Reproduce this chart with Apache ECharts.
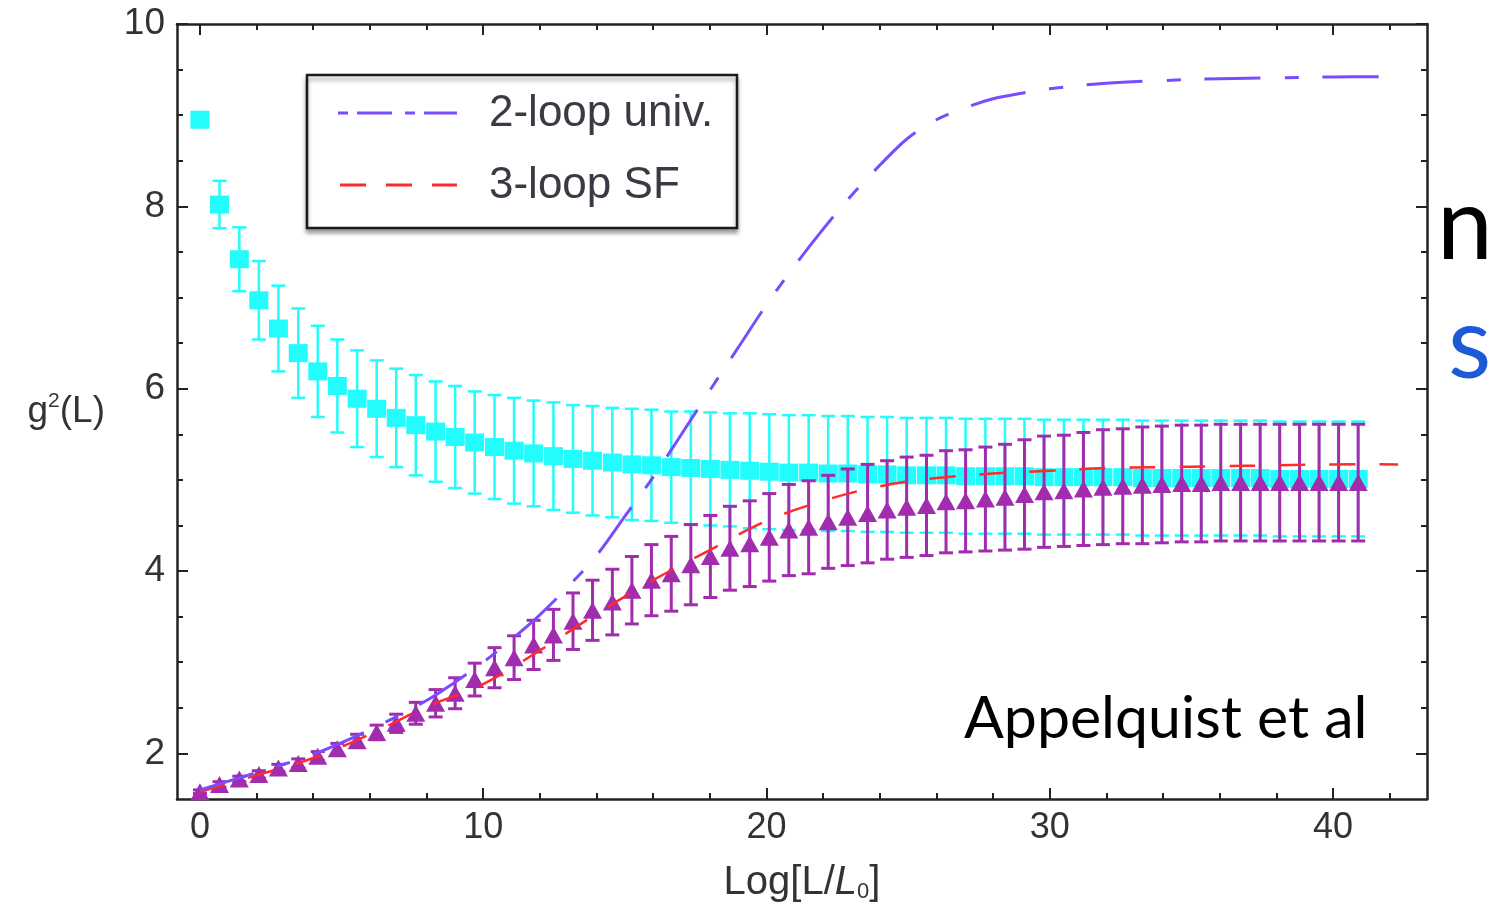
<!DOCTYPE html>
<html>
<head>
<meta charset="utf-8">
<script src="https://cdn.jsdelivr.net/npm/echarts@6/dist/echarts.min.js"></script>
<style>
html,body{margin:0;padding:0;background:#fff;}
#chart{width:1506px;height:916px;}
</style>
</head>
<body>
<div id="chart"></div>
<script>
// ---------- data ----------
const xVals = [0, 0.69, 1.39, 2.08, 2.77, 3.47, 4.16, 4.85, 5.55, 6.24, 6.93, 7.62, 8.32, 9.01, 9.70, 10.40, 11.09, 11.78, 12.48, 13.17, 13.86, 14.56, 15.25, 15.94, 16.64, 17.33, 18.02, 18.71, 19.41, 20.10, 20.79, 21.49, 22.18, 22.87, 23.57, 24.26, 24.95, 25.65, 26.34, 27.03, 27.73, 28.42, 29.11, 29.80, 30.50, 31.19, 31.88, 32.58, 33.27, 33.96, 34.66, 35.35, 36.04, 36.74, 37.43, 38.12, 38.82, 39.51, 40.20, 40.89];

const cyanY = [8.95, 8.02, 7.42, 6.97, 6.66, 6.39, 6.19, 6.03, 5.89, 5.78, 5.68, 5.60, 5.53, 5.47, 5.41, 5.36, 5.32, 5.29, 5.26, 5.23, 5.21, 5.19, 5.17, 5.16, 5.14, 5.13, 5.12, 5.11, 5.10, 5.09, 5.08, 5.08, 5.07, 5.07, 5.06, 5.06, 5.05, 5.05, 5.05, 5.04, 5.04, 5.04, 5.04, 5.03, 5.03, 5.03, 5.03, 5.03, 5.02, 5.02, 5.02, 5.02, 5.02, 5.02, 5.02, 5.01, 5.01, 5.01, 5.01, 5.01];
const cyanErr = [0, 0.26, 0.35, 0.43, 0.47, 0.49, 0.50, 0.51, 0.53, 0.53, 0.54, 0.55, 0.55, 0.56, 0.56, 0.57, 0.58, 0.58, 0.59, 0.59, 0.60, 0.60, 0.61, 0.61, 0.61, 0.62, 0.62, 0.62, 0.63, 0.63, 0.63, 0.63, 0.63, 0.63, 0.63, 0.63, 0.63, 0.63, 0.63, 0.63, 0.63, 0.63, 0.63, 0.63, 0.63, 0.63, 0.63, 0.63, 0.63, 0.63, 0.63, 0.63, 0.63, 0.63, 0.63, 0.63, 0.63, 0.63, 0.63, 0.63];

const purpleY = [1.58, 1.66, 1.72, 1.77, 1.84, 1.89, 1.97, 2.05, 2.14, 2.23, 2.33, 2.44, 2.55, 2.66, 2.81, 2.94, 3.05, 3.19, 3.30, 3.45, 3.57, 3.66, 3.79, 3.90, 3.97, 4.07, 4.16, 4.25, 4.30, 4.37, 4.45, 4.48, 4.54, 4.59, 4.63, 4.67, 4.70, 4.72, 4.76, 4.77, 4.79, 4.81, 4.84, 4.87, 4.88, 4.90, 4.92, 4.93, 4.94, 4.95, 4.96, 4.96, 4.97, 4.97, 4.97, 4.97, 4.97, 4.97, 4.97, 4.97];
const purpleErr = [0.02, 0.03, 0.03, 0.04, 0.04, 0.05, 0.05, 0.06, 0.07, 0.08, 0.10, 0.12, 0.15, 0.17, 0.18, 0.22, 0.24, 0.27, 0.28, 0.31, 0.33, 0.36, 0.37, 0.39, 0.41, 0.44, 0.45, 0.46, 0.47, 0.48, 0.50, 0.51, 0.51, 0.53, 0.54, 0.54, 0.55, 0.55, 0.56, 0.56, 0.57, 0.58, 0.60, 0.61, 0.61, 0.62, 0.63, 0.63, 0.64, 0.64, 0.64, 0.64, 0.64, 0.64, 0.64, 0.64, 0.64, 0.64, 0.64, 0.64];

const twoLoopX = [0, 2, 4, 6, 8, 9, 10, 11, 12, 13, 14, 15, 16, 17, 18, 19, 20, 21, 22, 23, 24, 25, 26, 27, 28, 29, 30, 32, 34, 36, 38, 40, 41.8];
const twoLoopY = [1.60, 1.79, 1.99, 2.26, 2.58, 2.78, 3.00, 3.25, 3.52, 3.83, 4.17, 4.60, 5.03, 5.50, 5.98, 6.45, 6.92, 7.35, 7.75, 8.12, 8.45, 8.75, 8.95, 9.08, 9.18, 9.24, 9.29, 9.35, 9.38, 9.40, 9.41, 9.42, 9.42];

const threeLoopX = [0, 2, 4, 6, 8, 10, 12, 14, 16, 18, 20, 22, 24, 26, 28, 30, 32, 34, 36, 38, 40, 42.3];
const threeLoopY = [1.58, 1.76, 1.95, 2.21, 2.51, 2.76, 3.13, 3.53, 3.90, 4.23, 4.55, 4.77, 4.93, 5.02, 5.07, 5.10, 5.13, 5.14, 5.15, 5.16, 5.17, 5.17];

const seriesNames = ['2-loop univ.', '3-loop SF'];
const xMajorTicks = [0, 10, 20, 30, 40];
const xMinorTicks = [2, 4, 6, 8, 12, 14, 16, 18, 22, 24, 26, 28, 32, 34, 36, 38, 42];
const yMajorTicks = [2, 4, 6, 8, 10];
const yMinorTicks = [2.5, 3, 3.5, 4.5, 5, 5.5, 6.5, 7, 7.5, 8.5, 9, 9.5];
const xTitle = 'Log[L/{it|L}{sub|0}]';
const yTitle = 'g{sup|2}(L)';
const credit = 'Appelquist et al';

// ---------- chart ----------
const chart = echarts.init(document.getElementById('chart'), null, {renderer: 'canvas'});
const FONT = '"Liberation Sans", Arial, sans-serif';
const X_MIN = -0.81, X_MAX = 43.32, Y_MIN = 1.5, Y_MAX = 10;
const LABEL_COLOR = '#333';
const CYAN = '#22fcfc';
const PURPLE = '#a12cae';
const BLUE = '#7a4cff';
const RED = '#ff2a2a';

function pairs(xs, ys) { return xs.map((x, i) => [x, ys[i]]); }
function errData(xs, ys, es) { return xs.map((x, i) => [x, ys[i] - es[i], ys[i] + es[i]]); }

function errRenderer(color, capHalf, lw) {
  return function (params, api) {
    const x = api.value(0), lo = api.value(1), hi = api.value(2);
    if (hi - lo < 1e-6) return null;
    const p1 = api.coord([x, lo]);
    const p2 = api.coord([x, hi]);
    const st = {stroke: color, lineWidth: lw};
    return {
      type: 'group',
      children: [
        {type: 'line', shape: {x1: p1[0], y1: p1[1], x2: p2[0], y2: p2[1]}, style: st},
        {type: 'line', shape: {x1: p1[0] - capHalf, y1: p1[1], x2: p1[0] + capHalf, y2: p1[1]}, style: st},
        {type: 'line', shape: {x1: p2[0] - capHalf, y1: p2[1], x2: p2[0] + capHalf, y2: p2[1]}, style: st}
      ]
    };
  };
}

// one continuous dashed curve through all points of a series (dash pattern runs along the whole path)
function curveRenderer(xs, ys, color, lw, dash) {
  return function (params, api) {
    if (params.dataIndex !== 0) return null;
    const pts = xs.map((x, i) => api.coord([x, ys[i]]));
    return {
      type: 'polyline',
      shape: {points: pts, smooth: 0.35},
      style: {stroke: color, lineWidth: lw, lineDash: dash, fill: null, lineCap: 'butt', lineJoin: 'round'}
    };
  };
}

function xAxisDef(pos, ticks, len, showLine, showLabel, extra) {
  return Object.assign({
    type: 'value', position: pos, min: X_MIN, max: X_MAX, gridIndex: 0,
    axisLine: {show: showLine, onZero: false, lineStyle: {color: '#222', width: 2.5}},
    axisTick: {show: true, inside: true, length: len, customValues: ticks, lineStyle: {color: '#222', width: 2}},
    axisLabel: {show: showLabel, customValues: ticks, fontFamily: FONT, fontSize: 36, color: LABEL_COLOR, margin: 11},
    splitLine: {show: false}
  }, extra || {});
}
function yAxisDef(pos, ticks, len, showLine, showLabel, extra) {
  return Object.assign({
    type: 'value', position: pos, min: Y_MIN, max: Y_MAX, gridIndex: 0,
    axisLine: {show: showLine, onZero: false, lineStyle: {color: '#222', width: 2.5}},
    axisTick: {show: true, inside: true, length: len, customValues: ticks, lineStyle: {color: '#222', width: 2}},
    axisLabel: {show: showLabel, customValues: ticks, fontFamily: FONT, fontSize: 37, color: LABEL_COLOR, margin: 12},
    splitLine: {show: false}
  }, extra || {});
}

const LEG_X = 307, LEG_Y = 75, LEG_W = 430, LEG_H = 153;
const LEG_FONT = '44px "Liberation Sans", Arial, sans-serif';

const option = {
  backgroundColor: '#ffffff',
  animation: false,
  grid: {left: 177, top: 24, width: 1250, height: 775, containLabel: false},
  xAxis: [
    xAxisDef('bottom', xMajorTicks, 11, true, true, {
      name: xTitle, nameLocation: 'middle', nameGap: 64,
      nameTextStyle: {fontFamily: FONT, fontSize: 40, color: LABEL_COLOR,
        rich: {
          it: {fontFamily: FONT, fontSize: 40, fontStyle: 'italic', color: LABEL_COLOR},
          sub: {fontFamily: FONT, fontSize: 22, color: LABEL_COLOR, padding: [18, 0, 0, 0]}
        }}
    }),
    xAxisDef('bottom', xMinorTicks, 6, false, false),
    xAxisDef('top', xMajorTicks, 11, true, false),
    xAxisDef('top', xMinorTicks, 6, false, false)
  ],
  yAxis: [
    yAxisDef('left', yMajorTicks, 11, true, true, {
      name: yTitle, nameLocation: 'middle', nameGap: 72, nameRotate: 0,
      nameTextStyle: {fontFamily: FONT, fontSize: 37, color: LABEL_COLOR,
        rich: {sup: {fontFamily: FONT, fontSize: 21, color: LABEL_COLOR, padding: [0, 0, 20, 0]}}}
    }),
    yAxisDef('left', yMinorTicks, 6, false, false),
    yAxisDef('right', yMajorTicks, 11, true, false),
    yAxisDef('right', yMinorTicks, 6, false, false)
  ],
  graphic: [
    // legend box
    {type: 'rect', z: 60, shape: {x: LEG_X, y: LEG_Y, width: LEG_W, height: LEG_H},
      style: {fill: '#fff', stroke: '#1a1a1a', lineWidth: 2.5,
        shadowColor: 'rgba(0,0,0,0.35)', shadowBlur: 4, shadowOffsetX: 0, shadowOffsetY: 4}},
    {type: 'line', z: 61, shape: {x1: 338, y1: 113, x2: 457, y2: 113},
      style: {stroke: BLUE, lineWidth: 3, lineDash: [10, 9, 35, 13]}},
    {type: 'line', z: 61, shape: {x1: 340, y1: 185, x2: 457, y2: 185},
      style: {stroke: RED, lineWidth: 3, lineDash: [26, 20]}},
    {type: 'text', z: 61, left: 489, top: 92,
      style: {text: seriesNames[0], font: LEG_FONT, fill: '#3a3a44'}},
    {type: 'text', z: 61, left: 489, top: 164,
      style: {text: seriesNames[1], font: LEG_FONT, fill: '#3a3a44'}},
    // annotations
    {type: 'text', left: 964, top: 689, z: 50,
      style: {text: credit, font: '59px Lato, "Open Sans", sans-serif', fill: '#000'}},
    {type: 'text', left: 1437, top: 177, z: 50,
      style: {text: 'n', font: '100px Lato, "Open Sans", sans-serif', fill: '#000'}},
    {type: 'text', left: 1448, top: 296, z: 50,
      style: {text: 's', font: '100px Lato, "Open Sans", sans-serif', fill: '#1d5ad6'}}
  ],
  series: [
    {
      type: 'custom', name: 'cyan-err', xAxisIndex: 0, yAxisIndex: 0, z: 2,
      renderItem: errRenderer(CYAN, 7, 2.5),
      data: errData(xVals, cyanY, cyanErr), clip: true, silent: true
    },
    {
      type: 'scatter', name: 'cyan', xAxisIndex: 0, yAxisIndex: 0, z: 3,
      symbol: 'rect', symbolSize: [19, 18],
      itemStyle: {color: CYAN, opacity: 1},
      data: pairs(xVals, cyanY)
    },
    {
      type: 'custom', name: 'purple-err', xAxisIndex: 0, yAxisIndex: 0, z: 4,
      renderItem: errRenderer(PURPLE, 7, 3),
      data: errData(xVals, purpleY, purpleErr), clip: true, silent: true
    },
    {
      type: 'scatter', name: 'purple', xAxisIndex: 0, yAxisIndex: 0, z: 5,
      symbol: 'triangle', symbolSize: [19, 17],
      itemStyle: {color: PURPLE, opacity: 1},
      data: pairs(xVals, purpleY)
    },
    {
      type: 'custom', name: seriesNames[1], xAxisIndex: 0, yAxisIndex: 0, z: 6,
      renderItem: curveRenderer(threeLoopX, threeLoopY, RED, 2.5, [26, 24]),
      data: pairs(threeLoopX, threeLoopY), clip: true, silent: true
    },
    {
      type: 'custom', name: seriesNames[0], xAxisIndex: 0, yAxisIndex: 0, z: 7,
      renderItem: curveRenderer(twoLoopX, twoLoopY, BLUE, 3, [56, 24, 14, 24]),
      data: pairs(twoLoopX, twoLoopY), clip: true, silent: true
    }
  ]
};
chart.setOption(option);
</script>
</body>
</html>
